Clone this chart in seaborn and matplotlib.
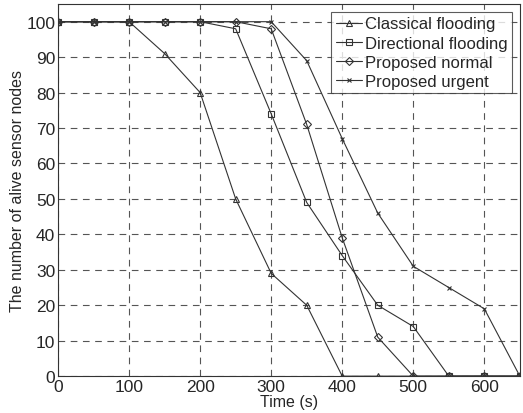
import matplotlib
matplotlib.use("Agg")
import matplotlib.pyplot as plt
import seaborn as sns
import pandas as pd

# time axis (s)
time_s = [0, 50, 100, 150, 200, 250, 300, 350, 400, 450, 500, 550, 600, 650]

classical = [100, 100, 100, 91, 80, 50, 29, 20, 0, 0, 0, 0, 0, 0]
directional = [100, 100, 100, 100, 100, 98, 74, 49, 34, 20, 14, 0, 0, 0]
normal = [100, 100, 100, 100, 100, 100, 98, 71, 39, 11, 0, 0, 0, 0]
urgent = [100, 100, 100, 100, 100, 100, 100, 89, 67, 46, 31, 25, 19, 0]

series_names = ["Classical flooding", "Directional flooding",
                "Proposed normal", "Proposed urgent"]
markers = ["^", "s", "D", "x"]

sns.set_style("white")
plt.rcParams["font.family"] = ["Liberation Sans", "DejaVu Sans"]

fig = plt.figure(figsize=(5.23, 4.14), dpi=100)
ax = fig.add_axes([0.111, 0.089, 0.883, 0.899])

for name, vals, mk in zip(series_names, [classical, directional, normal, urgent], markers):
    df = pd.DataFrame({"t": time_s, "n": vals})
    sns.lineplot(data=df, x="t", y="n", ax=ax, color="#333333", linewidth=0.8,
                 marker=mk, markersize={"D": 4.5, "x": 3}.get(mk, 5),
                 markerfacecolor="none", markeredgecolor="#333333",
                 markeredgewidth=0.8, label=name)

ax.set_xlim(0, 650)
ax.set_ylim(0, 105)
ax.set_xticks(range(0, 601, 100))
ax.set_yticks(range(0, 101, 10))
ax.grid(True, linestyle=(0, (6, 5)), color="#555555", linewidth=0.8)
for s in ax.spines.values():
    s.set_color("#333333")
    s.set_linewidth(0.8)
ax.tick_params(labelsize=12.5, length=0, pad=2)
ax.set_xlabel("Time (s)", fontsize=11.5, labelpad=0)
ax.set_ylabel("The number of alive sensor nodes", fontsize=11.5, labelpad=1)

leg = ax.legend(loc="upper right", fontsize=12, frameon=True, fancybox=False,
                edgecolor="#333333", borderaxespad=0.5, handlelength=1.6,
                handletextpad=0.15, labelspacing=0.25, borderpad=0.25)
leg.get_frame().set_linewidth(0.8)

plt.savefig("out.png", dpi=100)
plt.close()
